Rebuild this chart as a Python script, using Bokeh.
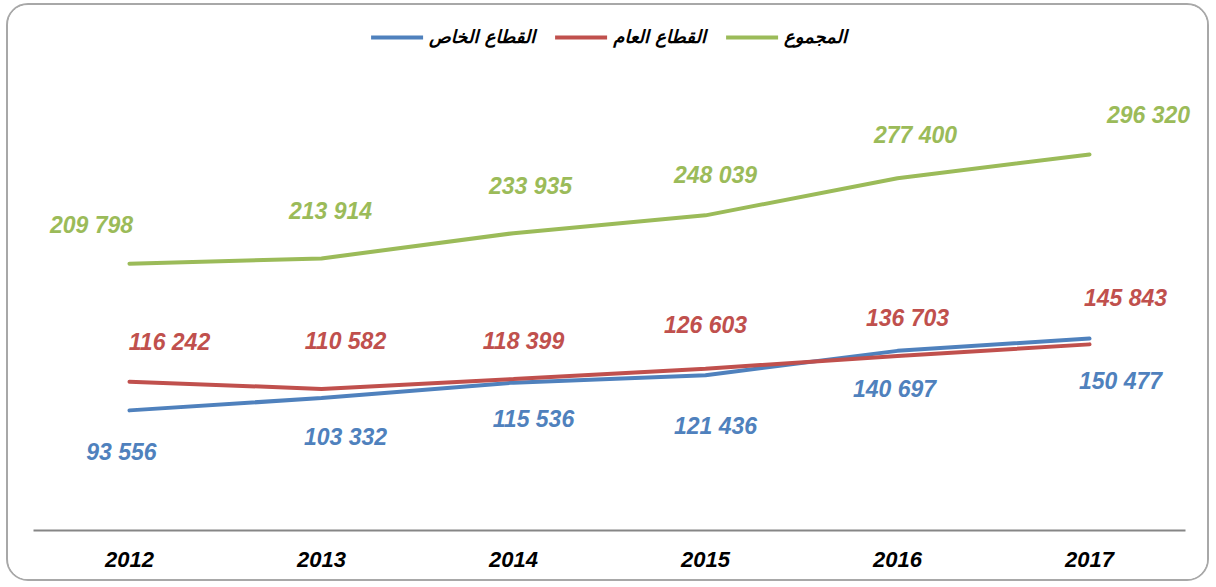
from bokeh.plotting import figure
from bokeh.models import ColumnDataSource, Range1d, FactorRange, Legend, LegendItem, LabelSet
from bokeh.core.properties import value
from bokeh.embed import file_html
from bokeh.resources import INLINE

years = ["2012", "2013", "2014", "2015", "2016", "2017"]
private_sector = [93556, 103332, 115536, 121436, 140697, 150477]
public_sector = [116242, 110582, 118399, 126603, 136703, 145843]
total = [209798, 213914, 233935, 248039, 277400, 296320]

names = ["القطاع الخاص", "القطاع العام", "المجموع"]
colors = ["#4F81BD", "#C0504D", "#9BBB59"]

# label placement (screen pixel offsets, layout only; positive dy = up)
label_dx = [
    [-8, 24, 20, 10, -3, 31],
    [40, 24, 10, 0, 10, 36],
    [-38, 9, 17, 10, 18, 59],
]
label_dy = [
    [-42, -39, -36, -51, -38, -42],
    [40, 48, 38, 44, 38, 46],
    [39, 47, 47, 40, 43, 39],
]

def fmt(v):
    return f"{v:,}".replace(",", " ")

x_range = FactorRange(factors=years, range_padding=0.104, range_padding_units="absolute")

p = figure(
    width=1203, height=578,
    x_range=x_range, y_range=Range1d(-1600, 402400),
    output_backend="svg", toolbar_location=None,
    min_border_left=5, min_border_right=6,
    min_border_top=15, min_border_bottom=53,
)
p.styles = {
    "margin-left": "6px", "margin-top": "3px",
    "border": "2px solid #a8a8a8", "border-radius": "22px",
    "overflow": "hidden",
}
p.outline_line_color = None
p.xgrid.visible = False
p.ygrid.visible = False
p.yaxis.visible = False
p.xaxis.bounds = (0, len(years))
p.xaxis.axis_line_color = "#868686"
p.xaxis.axis_line_width = 2
p.xaxis.major_tick_line_color = None
p.xaxis.minor_tick_line_color = None
p.xaxis.major_label_text_font = "Liberation Sans"
p.xaxis.major_label_text_font_style = "bold italic"
p.xaxis.major_label_text_font_size = "22px"
p.xaxis.major_label_text_color = "#000000"
p.xaxis.major_label_standoff = 15

items = []
for i, (vals, name, col) in enumerate(zip([private_sector, public_sector, total], names, colors)):
    src = ColumnDataSource(dict(
        x=years, y=vals, t=[fmt(v) for v in vals],
        dx=label_dx[i], dy=label_dy[i],
    ))
    r = p.line("x", "y", source=src, line_color=col, line_width=4, line_cap="round")
    labels = LabelSet(x="x", y="y", text="t", source=src, x_offset="dx", y_offset="dy",
                      text_color=col, text_font=value("Liberation Sans"),
                      text_font_size="23px", text_font_style="bold italic",
                      text_align="center", text_baseline="middle")
    p.add_layout(labels)
    items.append(LegendItem(label=name, renderers=[r]))

legend = Legend(items=items, orientation="horizontal", location="top_center")
legend.border_line_color = None
legend.background_fill_alpha = 0
legend.label_text_font = "DejaVu Sans"
legend.label_text_font_style = "bold italic"
legend.label_text_font_size = "18px"
legend.label_text_color = "#000000"
legend.glyph_width = 52
legend.spacing = 20
legend.margin = 6
legend.padding = 8
legend.label_standoff = 6
p.add_layout(legend)

open("out.html", "w").write(file_html(p, INLINE))
